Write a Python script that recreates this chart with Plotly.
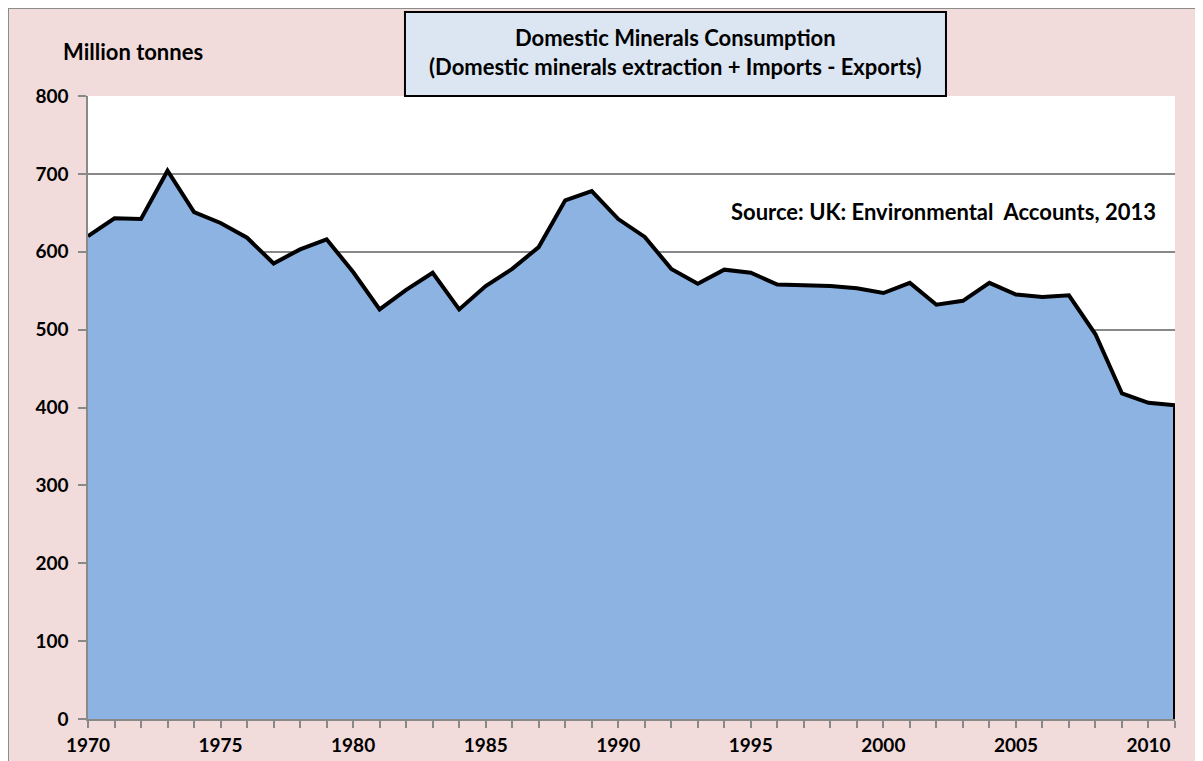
import plotly.graph_objects as go

# UK domestic minerals consumption, million tonnes
years = list(range(1970, 2012))
consumption = [620, 643, 642, 704, 651, 637, 618, 585, 603, 616,
               574, 526, 551, 573, 526, 556, 578, 606, 666, 678,
               642, 619, 578, 559, 577, 573, 558, 557, 556, 553,
               547, 560, 532, 537, 560, 545, 542, 544, 494, 418,
               406, 403]
x_tick_years = [1970, 1975, 1980, 1985, 1990, 1995, 2000, 2005, 2010]
y_ticks = [0, 100, 200, 300, 400, 500, 600, 700, 800]

title_lines = ["Domestic Minerals Consumption",
               "(Domestic minerals extraction + Imports - Exports)"]
source_text = "Source: UK: Environmental  Accounts, 2013"
y_label = "Million tonnes"

FONT = "Lato"
GRID = "#898989"

fig = go.Figure()
# area closed down to zero at the last year so the outline drops vertically
fig.add_scatter(
    x=years + [years[-1]], y=consumption + [0],
    mode="lines", fill="tozeroy", fillcolor="#8DB3E2",
    line=dict(color="black", width=4), showlegend=False,
    hoverinfo="skip",
)

fig.update_xaxes(
    range=[1970, 2011], tickvals=x_tick_years, ticks="outside",
    ticklen=7, tickwidth=1.5, tickcolor=GRID,
    minor=dict(dtick=1, tick0=1970, ticks="outside", ticklen=7,
               tickwidth=1.5, tickcolor=GRID),
    showline=True, linecolor=GRID, linewidth=1.5, showgrid=False,
    tickfont=dict(family=FONT, size=19, color="black", weight="bold"),
    ticklabelstandoff=1, zeroline=False, automargin=False,
)
fig.update_yaxes(
    range=[0, 800], tickvals=y_ticks, ticks="outside", ticklen=8,
    tickwidth=1.5, tickcolor=GRID, showline=True, linecolor=GRID,
    linewidth=1.5, gridcolor=GRID, gridwidth=2, zeroline=False,
    tickfont=dict(family=FONT, size=19, color="black", weight="bold"),
    ticklabelstandoff=6, automargin=False,
)

fig.update_layout(
    width=1195, height=753,
    margin=dict(l=80, r=28, t=88, b=42),
    paper_bgcolor="#F2DCDB", plot_bgcolor="white",
    font=dict(family=FONT, color="black"),
    shapes=[
        # outer chart border
        dict(type="rect", xref="paper", yref="paper", x0=-0.0736, x1=1.2,
             y0=-0.2, y1=1.1413, line=dict(color="#8C8C8C", width=2),
             layer="below"),
        # title box
        dict(type="rect", xref="paper", yref="paper", x0=0.2916, x1=0.7893,
             y0=1.0, y1=1.1348, fillcolor="#DCE6F2",
             line=dict(color="black", width=2)),
    ],
    annotations=[
        dict(text="<br>".join(title_lines), xref="paper", yref="paper",
             x=0.5405, y=1.0705, xanchor="center", yanchor="middle",
             showarrow=False, align="center",
             font=dict(family=FONT, size=22, weight="bold")),
        dict(text=y_label, xref="paper", yref="paper", x=-0.0245,
             y=1.071, xanchor="left", yanchor="middle", showarrow=False,
             font=dict(family=FONT, size=22, weight="bold")),
        dict(text=source_text, xref="paper", yref="paper", x=0.9845,
             y=0.815, xanchor="right", yanchor="middle", showarrow=False,
             font=dict(family=FONT, size=22, weight="bold")),
    ],
)

fig.write_html("out.html")
